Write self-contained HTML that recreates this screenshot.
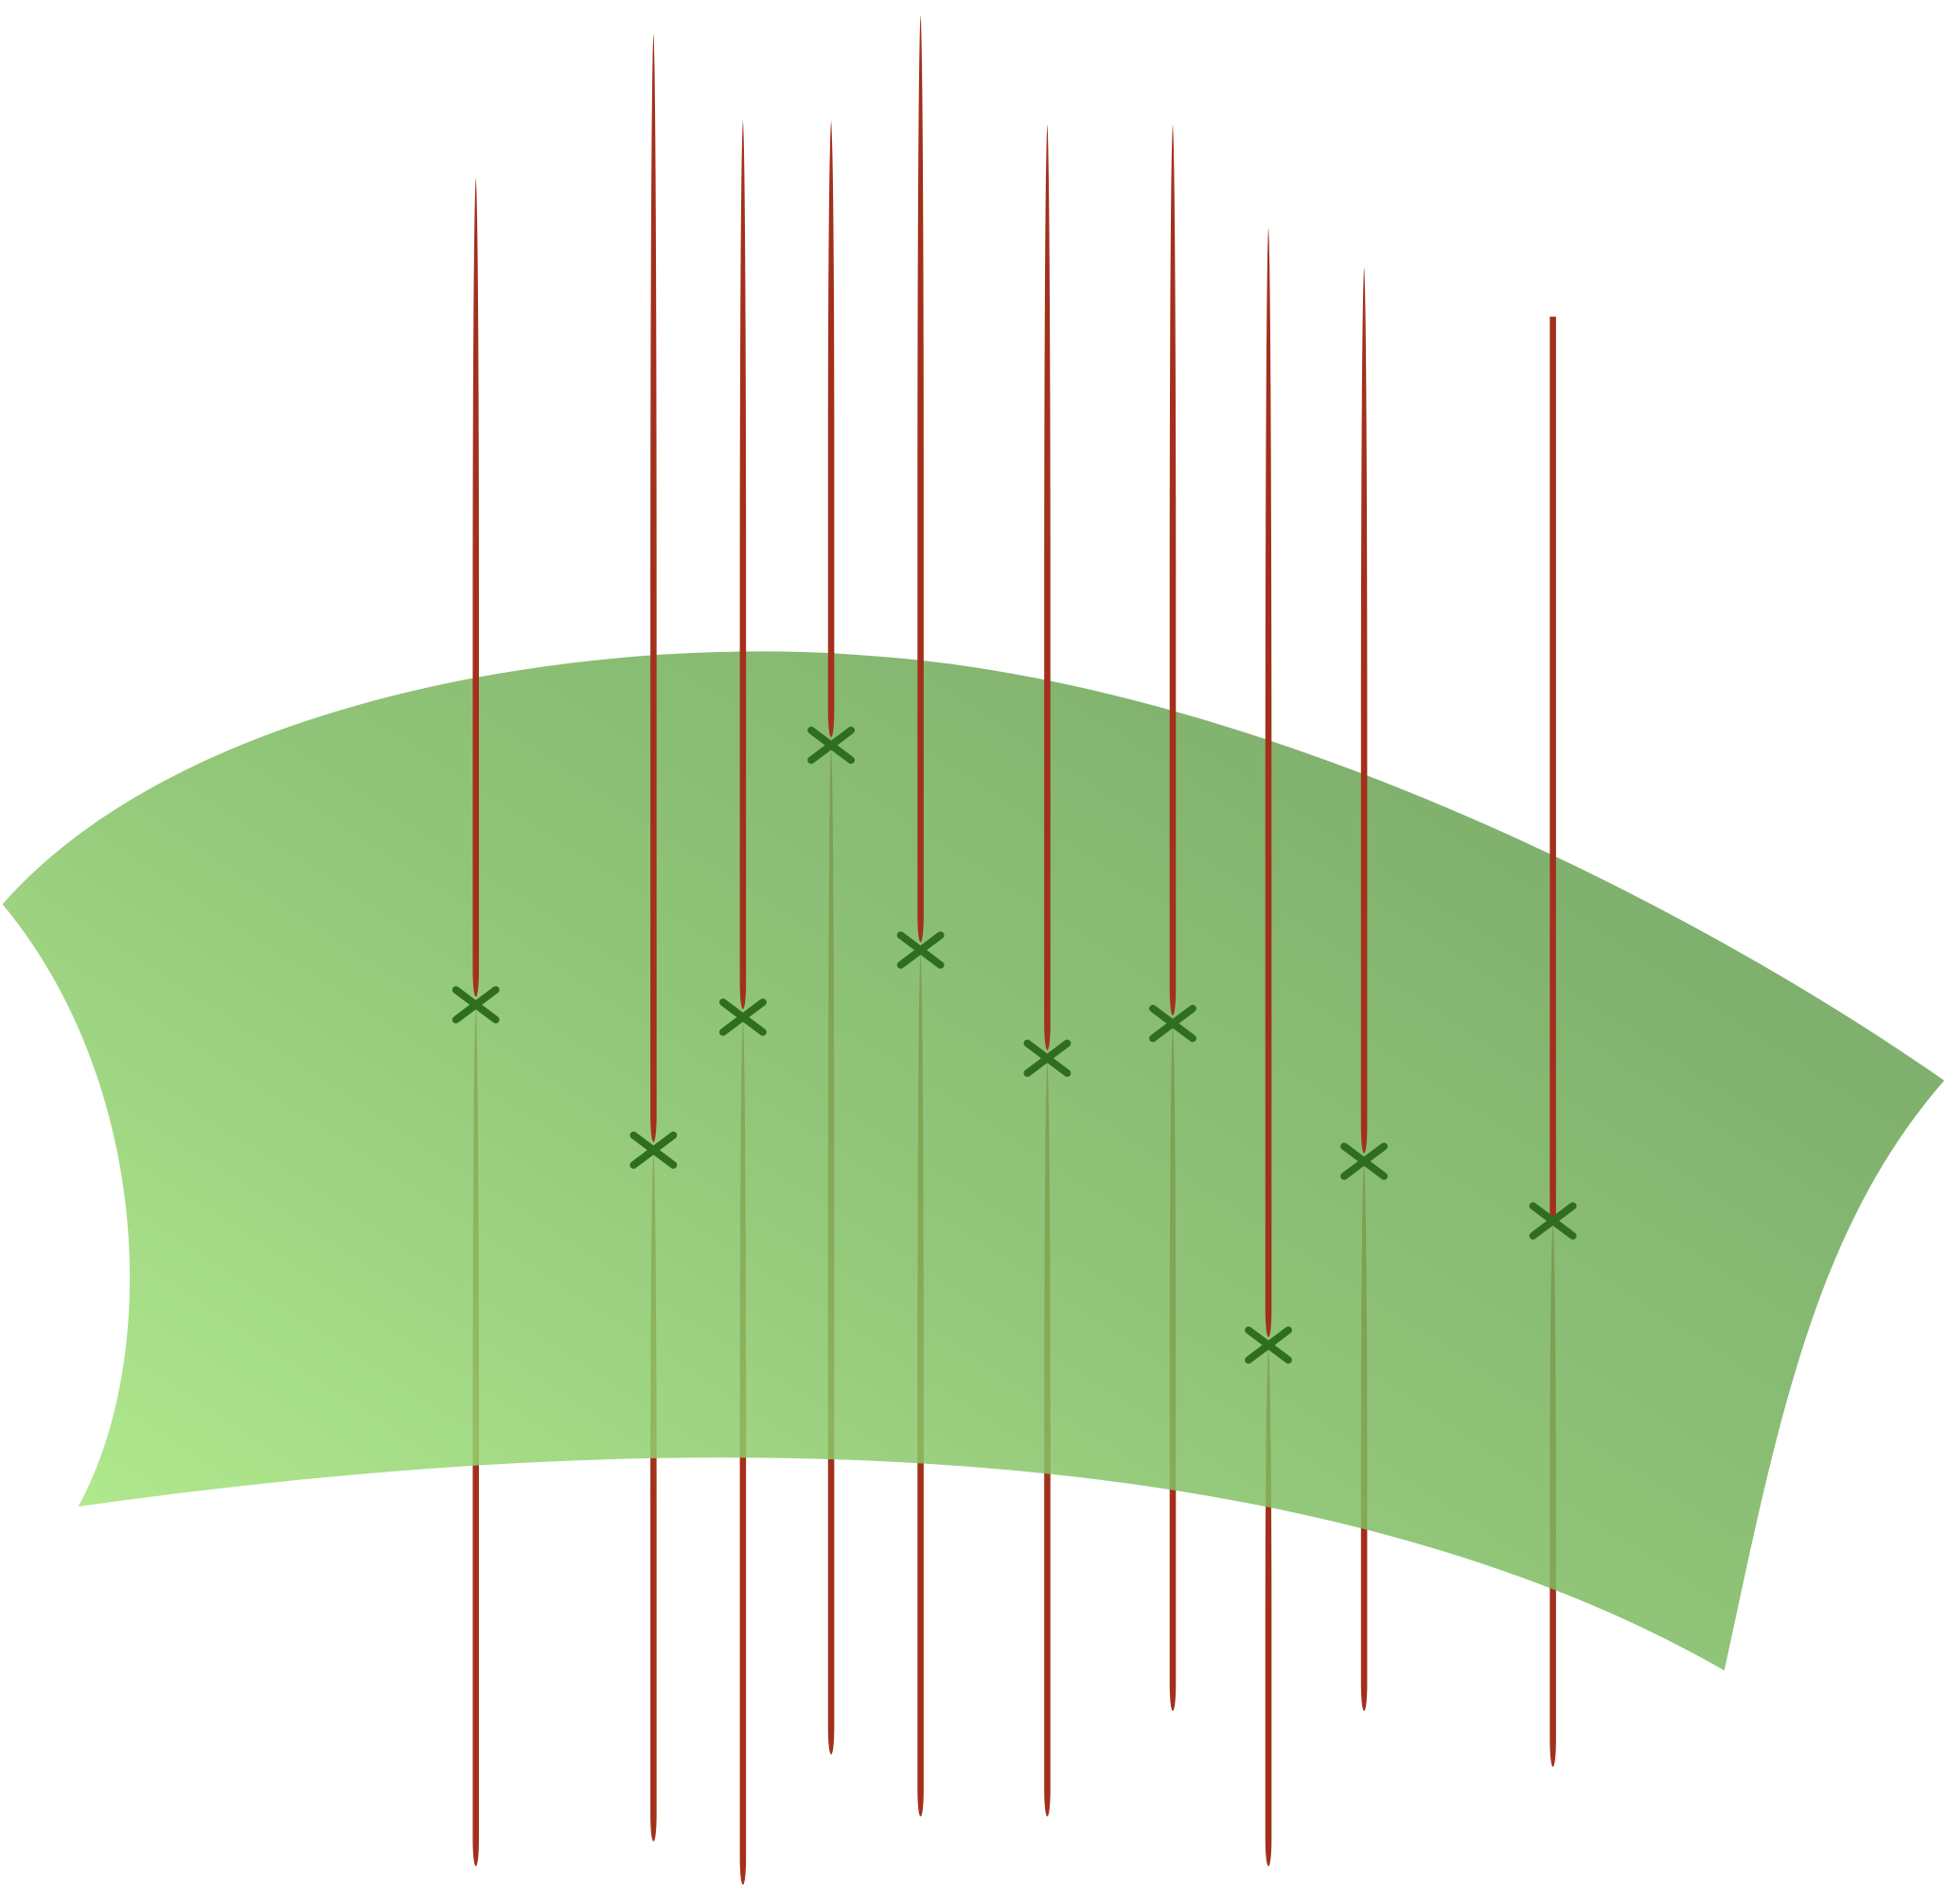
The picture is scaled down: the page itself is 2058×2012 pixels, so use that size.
<!DOCTYPE html>
<html><head><meta charset="utf-8"><style>html,body{margin:0;padding:0;background:#fff}svg{display:block}</style></head>
<body>
<svg id="chart" width="2058" height="2012" viewBox="0 0 1568 1533" xmlns="http://www.w3.org/2000/svg">
<defs>
<linearGradient id="g" x1="0" y1="1" x2="1" y2="0.2">
<stop offset="0" stop-color="#abee80"/>
<stop offset="0.5" stop-color="#7fbd62"/>
<stop offset="1" stop-color="#629b50"/>
</linearGradient>
</defs>
<g id="lower"></g>
<path fill="url(#g)" fill-opacity="0.85" d="M2,728 C150,560 480,510 700,528 C1000,548 1350,720 1565,870 C1460,990 1430,1150 1388,1345 C1100,1180 650,1130 63,1213 C130,1090 120,870 2,728 Z"/>
<g id="upper"></g>
<g id="marks"></g>
</svg>
<script>
const xs = [383, 526, 598, 669, 741, 843, 944, 1021, 1098, 1250];
const tops = [143, 27, 97, 97, 12, 100, 100, 183, 215, 255];
const bottoms = [1510, 1490, 1525, 1420, 1470, 1470, 1385, 1510, 1385, 1430];
const crosses = [810, 927, 820, 601, 766, 853, 825, 1084, 936, 984];
const NS = 'http://www.w3.org/2000/svg';
const lower = document.getElementById('lower'), upper = document.getElementById('upper'), marks = document.getElementById('marks');
function taper(x, y1, y2, w) {
  const m = (y1 + y2) / 2;
  return `M${x},${y1} C${x - w},${y1 + 30} ${x - w},${m} ${x - w},${m} L${x - w},${y2 - 30} C${x - w},${y2} ${x + w},${y2} ${x + w},${y2 - 30} L${x + w},${m} C${x + w},${m} ${x + w},${y1 + 30} ${x},${y1} Z`;
}
for (let i = 0; i < xs.length; i++) {
  const x = xs[i], c = crosses[i];
  const lo = document.createElementNS(NS, 'path');
  lo.setAttribute('d', taper(x, c, bottoms[i], 2.5));
  lo.setAttribute('fill', '#a3301c');
  
  
  lower.appendChild(lo);
  const up = document.createElementNS(NS, 'path');
  if (i === xs.length - 1) {
    up.setAttribute('d', `M${x - 2.5},${tops[i]} L${x + 2.5},${tops[i]} L${x + 2.5},${c} L${x - 2.5},${c} Z`);
  } else {
    up.setAttribute('d', taper(x, tops[i], c, 2.5));
  }
  up.setAttribute('fill', '#a3301c');
  
  
  upper.appendChild(up);
  const mk = document.createElementNS(NS, 'path');
  mk.setAttribute('d', `M${x - 16},${c - 13} L${x + 16},${c + 11} M${x + 16},${c - 13} L${x - 16},${c + 11}`);
  mk.setAttribute('stroke', '#2f6e1e');
  mk.setAttribute('stroke-width', '6');
  mk.setAttribute('stroke-linecap', 'round');
  mk.setAttribute('fill', 'none');
  
  
  marks.appendChild(mk);
}
</script>
</body></html>
